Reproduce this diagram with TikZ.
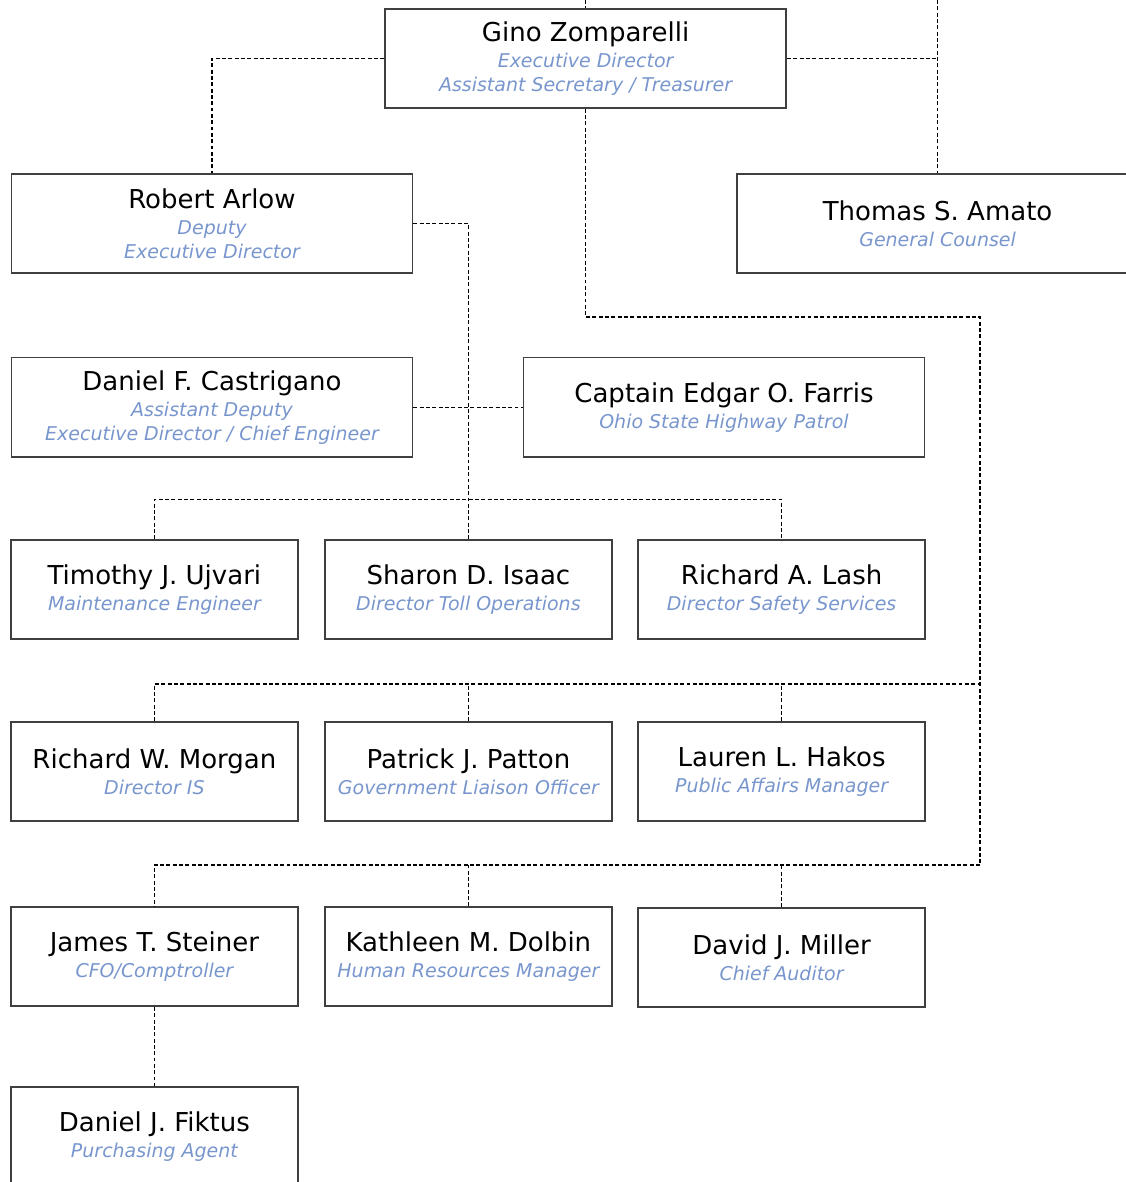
\documentclass[tikz,border=0pt]{standalone}
\usepackage{fontspec}
\setmainfont{DejaVu Sans}
\usepackage{tikz}
\usetikzlibrary{positioning}
\definecolor{rolecol}{RGB}{120,150,205}
\definecolor{boxline}{RGB}{64,64,64}
\newcommand{\pname}[1]{{\fontsize{18.5}{22}\selectfont #1}}
\newcommand{\prole}[1]{{\itshape\color{rolecol}#1}}
\tikzset{
  staff/.style={
    rectangle,
    minimum width=7.18cm,
    minimum height=2.48cm,
    align=center,
    draw=boxline,
    line width=1.05pt,
    inner sep=0pt,
    font=\fontsize{13.5}{17}\selectfont
    },
  head/.style={
    staff,
    minimum width=10.03cm
    },
  link/.style={
    black,
    line width=0.75pt,
    dash pattern=on 2.8pt off 1.7pt
    }
}

\begin{document}
\begin{tikzpicture}[node distance=4.6cm]
\useasboundingbox (0,0) rectangle (28.15,-29.55);
\node (gino) [head] at (14.64,-1.46) {\pname{Gino Zomparelli}\\[1.5pt]\prole{Executive Director}\\\prole{Assistant Secretary / Treasurer}};
\node (arlow) [head] at (5.3,-5.59) {\pname{Robert Arlow}\\[1.5pt]\prole{Deputy}\\\prole{Executive Director}};
\node (amato) [head] at (23.44,-5.59) {\pname{Thomas S. Amato}\\[1.5pt]\prole{General Counsel}};
\node (castrigano) [head] at (5.3,-10.18) {\pname{Daniel F. Castrigano}\\[1.5pt]\prole{Assistant Deputy}\\\prole{Executive Director / Chief Engineer}};
\node (farris) [head] at (18.1,-10.18) {\pname{Captain Edgar O. Farris}\\[1.5pt]\prole{Ohio State Highway Patrol}};
\node (timothy) [staff] at (3.86,-14.74) {\pname{Timothy J. Ujvari}\\[1.5pt]\prole{Maintenance Engineer}};
\node (sharon) [staff,right of=timothy, xshift=3.25cm] {\pname{Sharon D. Isaac}\\[1.5pt]\prole{Director Toll Operations}};
\node (lash) [staff,right of=sharon, xshift=3.23cm] {\pname{Richard A. Lash}\\[1.5pt]\prole{Director Safety Services}};
\node (morgan) [staff,below of=timothy, yshift=0.05cm] {\pname{Richard W. Morgan}\\[1.5pt]\prole{Director IS}};
\node (patton) [staff,right of=morgan, xshift=3.25cm] {\pname{Patrick J. Patton}\\[1.5pt]\prole{Government Liaison Officer}};
\node (hakos) [staff,right of=patton, xshift=3.23cm] {\pname{Lauren L. Hakos}\\[1.5pt]\prole{Public Affairs Manager}};
\node (steiner) [staff,below of=morgan, yshift=-0.025cm] {\pname{James T. Steiner}\\[1.5pt]\prole{CFO/Comptroller}};
\node (dolbin) [staff,right of=steiner, xshift=3.25cm] {\pname{Kathleen M. Dolbin}\\[1.5pt]\prole{Human Resources Manager}};
\node (miller) [staff,right of=dolbin, xshift=3.23cm, yshift=-0.025cm] {\pname{David J. Miller}\\[1.5pt]\prole{Chief Auditor}};
\node (fiktus) [staff,below of=steiner, yshift=0.1cm] {\pname{Daniel J. Fiktus}\\[1.5pt]\prole{Purchasing Agent}};
% free ends and the right rail
\coordinate (topin) at (14.64,0);
\coordinate (topright) at (amato.north |- topin);
\coordinate (railtop) at (24.5,-7.925);
\coordinate (railmid) at (24.5,-17.1);
\coordinate (railbot) at (24.5,-21.625);
\draw[link] (topin) -- (gino.north);
\draw[link] (topright) -- (amato.north);
\draw[link] (gino.east) -- (gino.east -| amato.north);
\draw[link] (gino.west) -| (arlow.north);
\draw[link] (arlow.east) -| (sharon.north);
\draw[link] (castrigano.east) -- (farris.west);
\draw[link] (timothy.north) |- ([yshift=1cm]sharon.north) -| (lash.north);
\draw[link] (gino.south) |- (railtop) -- (railbot);
\draw[link] (morgan.north) |- (railmid);
\draw[link] (patton.north) -- (patton.north |- railmid);
\draw[link] (hakos.north) -- (hakos.north |- railmid);
\draw[link] (railbot) -| (steiner.north);
\draw[link] (dolbin.north) -- (dolbin.north |- railbot);
\draw[link] (miller.north) -- (miller.north |- railbot);
\draw[link] (steiner.south) -- (fiktus.north);
\end{tikzpicture}
\end{document}
